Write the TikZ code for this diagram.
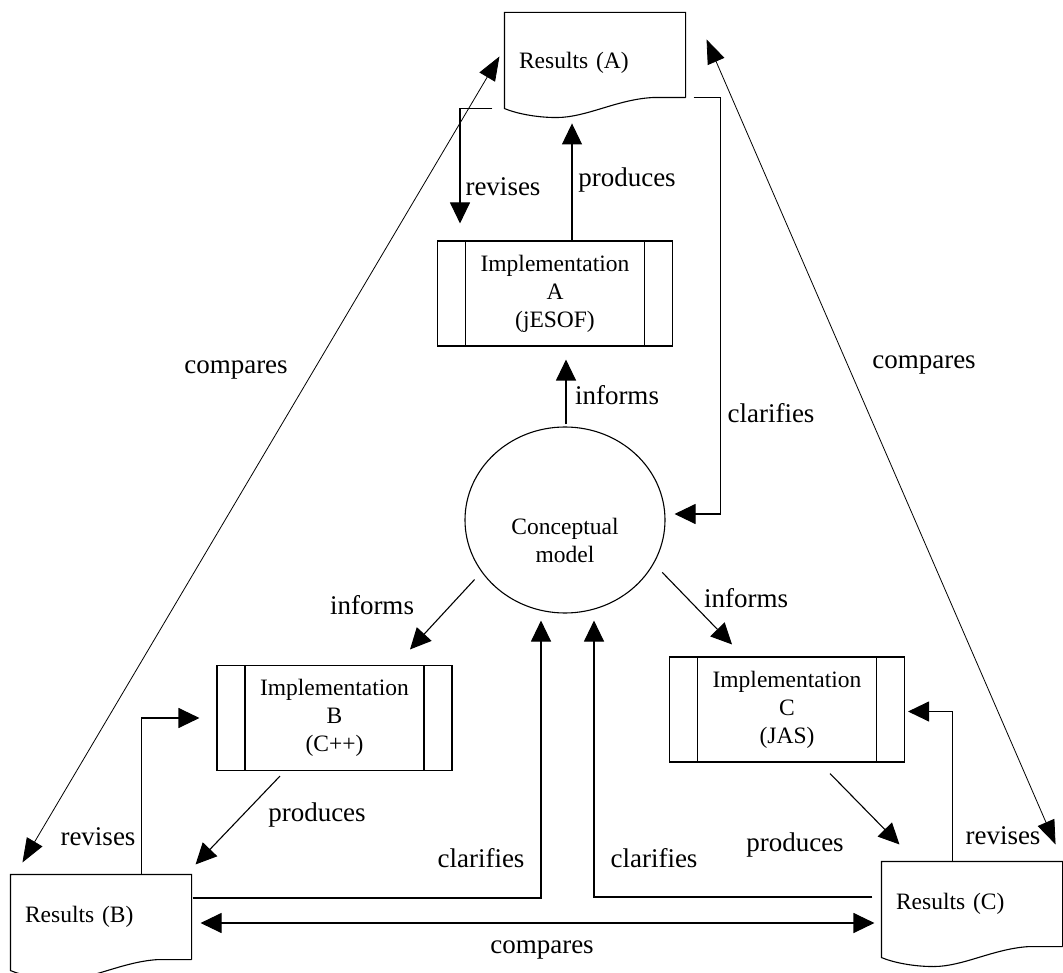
\documentclass[tikz,border=0pt]{standalone}
\usepackage{fontspec}
\setmainfont{Liberation Serif}
\usetikzlibrary{arrows.meta,shapes.geometric}
\newcommand\docoutline[1]{%
  \draw (#1.south east) -- (#1.north east) -- (#1.north west) -- ([shift={(0,11)}]#1.south west)
    .. controls ([shift={(12,16)}]#1.south west) and ([shift={(32,20)}]#1.south west) .. ([shift={(52,20)}]#1.south west)
    .. controls ([shift={(82,20)}]#1.south west) and ([shift={(112,2)}]#1.south west) .. ([shift={(148,0)}]#1.south west)
    -- (#1.south east);}
\begin{document}
\begin{tikzpicture}[x=1pt,y=-1pt,
  line width=1.1pt,
  arr/.style={-{Triangle[length=21pt,width=20pt]}},
  darr/.style={{Triangle[length=21pt,width=20pt]}-{Triangle[length=21pt,width=20pt]}},
  thinarr/.style={line width=0.8pt,{Triangle[length=24pt,width=18pt]}-{Triangle[length=24pt,width=18pt]}},
  lbl/.style={font=\fontsize{27}{30}\selectfont, inner sep=0pt},
  ntxt/.style={font=\fontsize{23.5}{28}\selectfont, align=center},
  docbox/.style={minimum width=180pt, minimum height=84pt, inner xsep=14pt, inner ysep=0pt,
    text width=152pt, align=left, font=\fontsize{23.5}{28}\selectfont},
  impl/.style={draw, ntxt, minimum width=235pt, minimum height=105pt, inner sep=0pt,
    path picture={\draw ([xshift=28pt]path picture bounding box.north west) -- ([xshift=28pt]path picture bounding box.south west)
      ([xshift=-28pt]path picture bounding box.north east) -- ([xshift=-28pt]path picture bounding box.south east);}},
]
\useasboundingbox (0,0) rectangle (1063,973);

% document shapes
\node[docbox] (resA) at (595,55) {\raisebox{-8pt}[\height][\depth]{Results (A)}};
\node[docbox] (resB) at (101,917) {Results (B)};
\node[docbox] (resC) at (972,904) {Results (C)};
\docoutline{resA}
\docoutline{resB}
\docoutline{resC}

% implementations
\node[impl] (implA) at (555,293.5) {Implementation\\A\\(jESOF)};
\node[impl] (implB) at (334.5,718) {Implementation\\B\\(C++)};
\node[impl] (implC) at (787,709.5) {Implementation\\C\\(JAS)};

% conceptual model
\node[draw, ellipse, minimum width=200pt, minimum height=186pt, inner sep=0pt,
  label={[ntxt, yshift=-20pt]center:Conceptual\\model}] (cm) at (565,520) {};

% top connectors
\draw[arr] ([shift={(-12,11)}]resA.south west) -| ([shift={(-95,-17)}]implA.north);
\draw[arr] ([shift={(17,0)}]implA.north) -- ++(0,-117);
\draw[arr] ([shift={(1,-2)}]cm.north) -- ([shift={(11,13)}]implA.south);
\draw[arr] ([shift={(8,0)}]resA.south east) -- ++(27,0) |- ([shift={(9,-6)}]cm.east);

% compares diagonals
\draw[thinarr] ([shift={(12,-12)}]resB.north west) -- ([shift={(-5,44)}]resA.north west);
\draw[thinarr] ([shift={(21,27)}]resA.north east) -- ([shift={(-7,-17)}]resC.north east);

% informs B and C
\draw[arr] ([shift={(-8,6)}]cm.213) -- ([shift={(75.5,-15.5)}]implB.north);
\draw[arr] ([shift={(10,6)}]cm.-28) -- ([shift={(-55,-12)}]implC.north);

% revises / produces B
\draw[arr] ([shift={(131,0)}]resB.north west) |- ([shift={(-17,0)}]implB.west);
\draw[arr] ([shift={(-54.5,5)}]implB.south) -- ([shift={(4,-10)}]resB.north east);

% revises / produces C
\draw[arr] ([shift={(71,0)}]resC.north west) |- ([shift={(3,2)}]implC.east);
\draw[arr] ([shift={(43,11)}]implC.south) -- ([shift={(18,-17)}]resC.north west);

% clarifies B and C
\draw[arr] ([shift={(1,-19)}]resB.east) -| ([shift={(-24,7)}]cm.south);
\draw[arr] ([shift={(-9,-7)}]resC.west) -| ([shift={(29,7)}]cm.south);

% compares bottom
\draw[darr] ([shift={(9,6)}]resB.east) -- ([shift={(-7,19)}]resC.west);

% labels
\node[lbl] (lrevA) at (503,187) {revises};
\node[lbl] (lprodA) at (627,180) {produces};
\node[lbl] (linfA) at (617,395) {informs};
\node[lbl] (lclarA) at (771,413) {clarifies};
\node[lbl] (lcmpL) at (236,370) {compares};
\node[lbl] (lcmpR) at (924,365) {compares};
\node[lbl] (linfB) at (372,605) {informs};
\node[lbl] (linfC) at (746,598) {informs};
\node[lbl] (lprodB) at (317,815) {produces};
\node[lbl] (lprodC) at (795,845) {produces};
\node[lbl] (lrevB) at (98,837) {revises};
\node[lbl] (lrevC) at (1003,836) {revises};
\node[lbl] (lclarB) at (481,858) {clarifies};
\node[lbl] (lclarC) at (654,858) {clarifies};
\node[lbl] (lcmpB) at (542,950) {compares};
\end{tikzpicture}
\end{document}
